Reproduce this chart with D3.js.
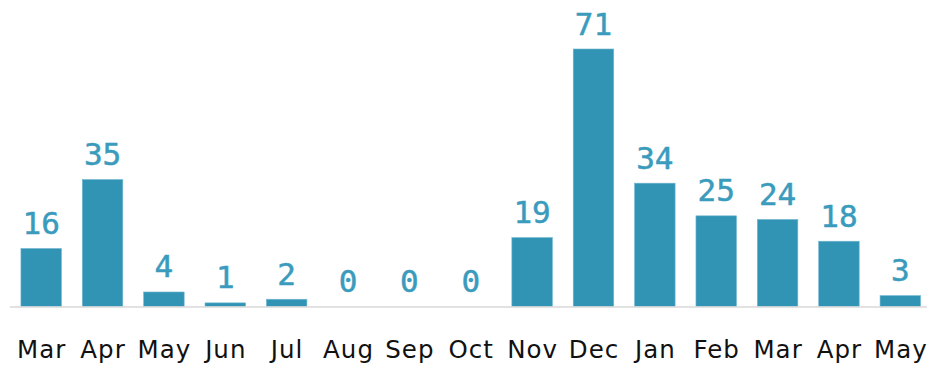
<!DOCTYPE html>
<html>
<head>
<meta charset="utf-8">
<script src="https://cdn.jsdelivr.net/npm/d3@7"></script>
<style>
  html, body { margin: 0; padding: 0; background: #fff; }
  svg { display: block; }
</style>
</head>
<body>
<svg id="chart" width="927" height="365"></svg>
<script>
// Monthly counts
const months = ["Mar","Apr","May","Jun","Jul","Aug","Sep","Oct","Nov","Dec","Jan","Feb","Mar","Apr","May"];
const counts = [16, 35, 4, 1, 2, 0, 0, 0, 19, 71, 34, 25, 24, 18, 3];

const W = 927, H = 365;
const baseline = 306.5;
const svg = d3.select("#chart");

const x = d3.scaleBand()
  .domain(d3.range(months.length))
  .range([10.5, 931])
  .paddingInner(0.34)
  .paddingOuter(0.17);

const y = d3.scaleLinear().domain([0, 71]).range([baseline, 49]);

const barColor = "#3194b4";
const labelColor = "#3a9bbd";

// bars
svg.append("g").selectAll("rect")
  .data(counts)
  .join("rect")
  .attr("x", (d, i) => x(i))
  .attr("y", d => y(d))
  .attr("width", x.bandwidth())
  .attr("height", d => baseline - y(d))
  .attr("fill", barColor)
  .attr("stroke", "#6fb6cf")
  .attr("stroke-width", 0.6);

// baseline
svg.append("line")
  .attr("x1", 10).attr("x2", 927)
  .attr("y1", baseline + 0.5).attr("y2", baseline + 0.5)
  .attr("stroke", "#d9d9d9").attr("stroke-width", 1.5);

// value labels
svg.append("g").selectAll("text")
  .data(counts)
  .join("text")
  .attr("x", (d, i) => x(i) + x.bandwidth() / 2)
  .attr("y", d => y(d) - 14.5)
  .attr("text-anchor", "middle")
  .attr("font-family", "DejaVu Sans Mono, monospace")
  .attr("font-size", 31)
  .attr("fill", labelColor)
  .attr("stroke", labelColor)
  .attr("stroke-width", 0.5)
  .text(d => d);

// category axis
const xAxis = d3.axisBottom(x).tickSize(0).tickFormat(i => months[i]);
const ax = svg.append("g")
  .attr("transform", `translate(0,${baseline})`)
  .call(xAxis);
ax.select(".domain").remove();
ax.selectAll("text")
  .attr("dy", 0)
  .attr("dx", 0.5)
  .attr("y", 51)
  .attr("font-family", "DejaVu Sans, sans-serif")
  .attr("font-size", 24.5)
  .attr("letter-spacing", 1)
  .attr("fill", "#111");
</script>
</body>
</html>
